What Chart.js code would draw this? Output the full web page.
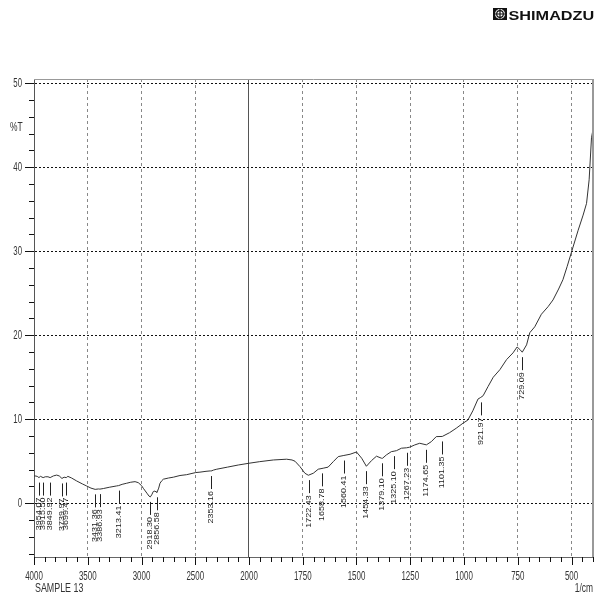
<!DOCTYPE html>
<html>
<head>
<meta charset="utf-8">
<script src="https://cdn.jsdelivr.net/npm/chart.js@4.4.0/dist/chart.umd.min.js"></script>
<style>
  html, body { margin: 0; padding: 0; background: #fff; }
</style>
</head>
<body>
<canvas id="ir" width="598" height="601"></canvas>
<script>
// spectrum (1/cm, %T)
const waveNumbers = [4000, 3990, 3970, 3954, 3940, 3915, 3895, 3870, 3850, 3820, 3789, 3765, 3740, 3720, 3700, 3685,
  3650, 3603, 3550, 3510, 3470, 3431, 3400, 3387, 3355, 3300, 3231, 3213, 3180, 3138, 3100, 3060, 3030, 3000,
  2983, 2950, 2930, 2918, 2905, 2890, 2875, 2865, 2856, 2840, 2828, 2810, 2797, 2750, 2704, 2642, 2580, 2496,
  2456, 2400, 2360, 2353, 2330, 2300, 2200, 2100, 2000, 1950, 1887, 1825, 1800, 1786, 1763, 1740, 1724, 1701,
  1678, 1655, 1632, 1608, 1585, 1562, 1530, 1500, 1476, 1454, 1430, 1407, 1384, 1379, 1361, 1338, 1325, 1314,
  1291, 1267, 1253, 1229, 1206, 1175, 1152, 1129, 1101, 1067, 1036, 1005, 982, 959, 935, 922, 911, 888, 864,
  833, 802, 772, 753, 740, 729, 709, 694, 671, 640, 609, 586, 560, 540, 520, 500, 469, 446, 430, 418, 407, 400];
const transmittance = [3.25, 3.25, 3.2, 3.05, 3.2, 3.05, 3.15, 3.15, 3.05, 3.25, 3.35, 3.25, 2.95, 3.1, 3.05, 3.2,
  3.0, 2.65, 2.3, 2.05, 1.8, 1.65, 1.7, 1.68, 1.75, 1.9, 2.06, 2.1, 2.25, 2.38, 2.5, 2.57, 2.45, 2.1,
  1.78, 1.2, 0.85, 0.75, 1.0, 1.4, 1.45, 1.35, 1.3, 1.8, 2.38, 2.7, 2.86, 3.0, 3.1, 3.3, 3.4, 3.65,
  3.7, 3.8, 3.85, 3.83, 3.95, 4.05, 4.3, 4.55, 4.76, 4.95, 5.15, 5.24, 5.15, 5.0, 4.36, 3.57, 3.33, 3.57,
  4.05, 4.17, 4.3, 4.95, 5.55, 5.67, 5.83, 6.1, 5.36, 4.4, 5.08, 5.6, 5.36, 5.35, 5.75, 6.14, 6.2, 6.26,
  6.55, 6.6, 6.67, 6.94, 7.14, 6.95, 7.33, 7.93, 7.95, 8.4, 8.93, 9.52, 9.9, 11.0, 12.4, 12.6, 12.8, 13.9, 15.0,
  15.9, 17.1, 17.9, 18.6, 18.3, 17.98, 18.85, 20.3, 21.0, 22.5, 23.4, 24.2, 25.5, 26.6, 28.2, 29.9, 32.5, 34.3, 35.7, 38.5, 43.5, 44.5];

const peakLabels = ['3954.07', '3915.50', '3849.92', '3739.97', '3699.47', '3431.36', '3386.93', '3213.41',
  '2918.30', '2856.58', '2353.16', '1722.43', '1658.78', '1560.41', '1454.33', '1379.10', '1325.10',
  '1267.23', '1174.65', '1101.35', '921.97', '729.09'];

const xMajorTicks = [4000, 3500, 3000, 2500, 2000, 1750, 1500, 1250, 1000, 750, 500];
const yMajorTicks = [0, 10, 20, 30, 40, 50];

// 4000-2000 is drawn at half the scale of 2000-400
const fold = w => w > 2000 ? 2000 + (w - 2000) / 2 : w;
const unfold = f => f > 2000 ? 2000 + (f - 2000) * 2 : f;

class FtirScale extends Chart.LinearScale {
  getPixelForValue(v) {
    if (v === null || v === undefined) return NaN;
    const a = fold(this.min), b = fold(this.max);
    return this.getPixelForDecimal((fold(v) - a) / (b - a));
  }
  getValueForPixel(p) {
    const a = fold(this.min), b = fold(this.max);
    return unfold(a + this.getDecimalForPixel(p) * (b - a));
  }
}
FtirScale.id = 'ftir';
FtirScale.defaults = Object.assign({}, Chart.LinearScale.defaults);
Chart.register(FtirScale);

function tAt(w) {
  for (let i = 0; i < waveNumbers.length - 1; i++) {
    const a = waveNumbers[i], b = waveNumbers[i + 1];
    if (w <= a && w >= b) {
      return transmittance[i] + (transmittance[i + 1] - transmittance[i]) * (a - w) / (a - b);
    }
  }
  return transmittance[transmittance.length - 1];
}

function squeeze(ctx, str, x, y, sx, align, baseline, font, color) {
  ctx.save();
  ctx.font = font;
  ctx.fillStyle = color || '#333';
  ctx.textAlign = align;
  ctx.textBaseline = baseline;
  ctx.translate(x, y);
  ctx.scale(sx, 1);
  ctx.fillText(str, 0, 0);
  ctx.restore();
}

const decor = {
  id: 'decor',
  afterDraw(chart) {
    const { ctx, chartArea: ca, scales: { x, y } } = chart;
    ctx.save();

    // frame top / right
    ctx.strokeStyle = '#999';
    ctx.lineWidth = 1;
    ctx.beginPath();
    ctx.moveTo(ca.left, ca.top + 0.5); ctx.lineTo(ca.right, ca.top + 0.5);
    ctx.stroke();
    ctx.lineWidth = 2;
    ctx.beginPath();
    ctx.moveTo(ca.right, ca.top); ctx.lineTo(ca.right, ca.bottom);
    ctx.stroke();

    // y tick marks
    ctx.strokeStyle = '#111';
    ctx.lineWidth = 1;
    for (let v = -6; v <= 50; v += 2) {
      const py = Math.round(y.getPixelForValue(v)) + 0.5;
      const len = v % 10 === 0 ? 9 : 5;
      ctx.beginPath(); ctx.moveTo(ca.left - len, py); ctx.lineTo(ca.left, py); ctx.stroke();
    }
    yMajorTicks.forEach(v => {
      squeeze(ctx, String(v), 22, y.getPixelForValue(v) + 0.5, 0.6, 'right', 'middle', '13px "Liberation Sans"');
    });
    squeeze(ctx, '%T', 10, 131, 0.65, 'left', 'alphabetic', '13px "Liberation Sans"');

    // x tick marks
    const xt = [];
    for (let w = 4000; w > 2000; w -= 100) xt.push(w);
    for (let w = 2000; w >= 400; w -= 50) xt.push(w);
    xt.forEach(w => {
      const px = Math.round(x.getPixelForValue(w)) + 0.5;
      const len = xMajorTicks.includes(w) ? 8 : 5;
      ctx.beginPath(); ctx.moveTo(px, ca.bottom); ctx.lineTo(px, ca.bottom + len); ctx.stroke();
    });
    xMajorTicks.forEach(w => {
      squeeze(ctx, String(w), x.getPixelForValue(w), 580, 0.66, 'center', 'alphabetic', '12px "Liberation Sans"');
    });
    squeeze(ctx, 'SAMPLE 13', 35, 592, 0.74, 'left', 'alphabetic', '12px "Liberation Sans"');
    squeeze(ctx, '1/cm', 593, 592, 0.7, 'right', 'alphabetic', '12px "Liberation Sans"');

    // peak markers
    ctx.strokeStyle = '#222';
    peakLabels.forEach(lbl => {
      const w = parseFloat(lbl);
      const px = Math.round(x.getPixelForValue(w)) + 0.5;
      const py = y.getPixelForValue(tAt(w));
      ctx.beginPath(); ctx.moveTo(px, py + 5); ctx.lineTo(px, py + 18); ctx.stroke();
      ctx.save();
      ctx.translate(px, py + 20);
      ctx.rotate(-Math.PI / 2);
      ctx.scale(1, 0.75);
      ctx.font = '9px "Liberation Sans"';
      ctx.fillStyle = '#222';
      ctx.textAlign = 'right';
      ctx.textBaseline = 'middle';
      ctx.fillText(lbl, 0, 0);
      ctx.restore();
    });

    // maker logo
    ctx.fillStyle = '#111';
    ctx.fillRect(493, 8, 14, 12);
    ctx.fillStyle = '#fff';
    ctx.beginPath(); ctx.arc(500, 14, 5, 0, Math.PI * 2); ctx.fill();
    ctx.strokeStyle = '#111';
    ctx.lineWidth = 1.2;
    ctx.beginPath(); ctx.arc(500, 14, 3.3, 0, Math.PI * 2); ctx.stroke();
    ctx.beginPath(); ctx.moveTo(500, 9); ctx.lineTo(500, 19); ctx.moveTo(495, 14); ctx.lineTo(505, 14); ctx.stroke();
    squeeze(ctx, 'SHIMADZU', 508.5, 19.5, 1.25, 'left', 'alphabetic', 'bold 13px "Liberation Sans"', '#111');

    ctx.restore();
  }
};

new Chart(document.getElementById('ir'), {
  type: 'line',
  data: {
    datasets: [{
      data: waveNumbers.map((w, i) => ({ x: w, y: transmittance[i] })),
      borderColor: '#333',
      borderWidth: 1,
      pointRadius: 0,
      tension: 0,
      fill: false
    }]
  },
  options: {
    responsive: false,
    animation: false,
    layout: { padding: { top: 79, right: 5, left: 0, bottom: 0 } },
    plugins: { legend: { display: false }, tooltip: { enabled: false } },
    scales: {
      x: {
        type: 'ftir', min: 400, max: 4000, reverse: true,
        afterBuildTicks: s => { s.ticks = xMajorTicks.map(v => ({ value: v })); },
        afterFit: s => { s.height = 44; },
        ticks: { display: false },
        grid: {
          drawTicks: false,
          color: c => !c.tick ? '#888' : c.tick.value === 4000 ? 'rgba(0,0,0,0)' : c.tick.value === 2000 ? '#555' : '#888'
        },
        border: { color: '#666', dash: c => (c.tick && c.tick.value === 2000) ? [] : [3, 3] }
      },
      y: {
        min: -6.4, max: 50.5,
        afterBuildTicks: s => { s.ticks = yMajorTicks.map(v => ({ value: v })); },
        afterFit: s => { s.width = 34; },
        ticks: { display: false },
        grid: { drawTicks: false, color: '#111' },
        border: { color: '#555', dash: [2, 2] }
      }
    }
  },
  plugins: [decor]
});
</script>
</body>
</html>
